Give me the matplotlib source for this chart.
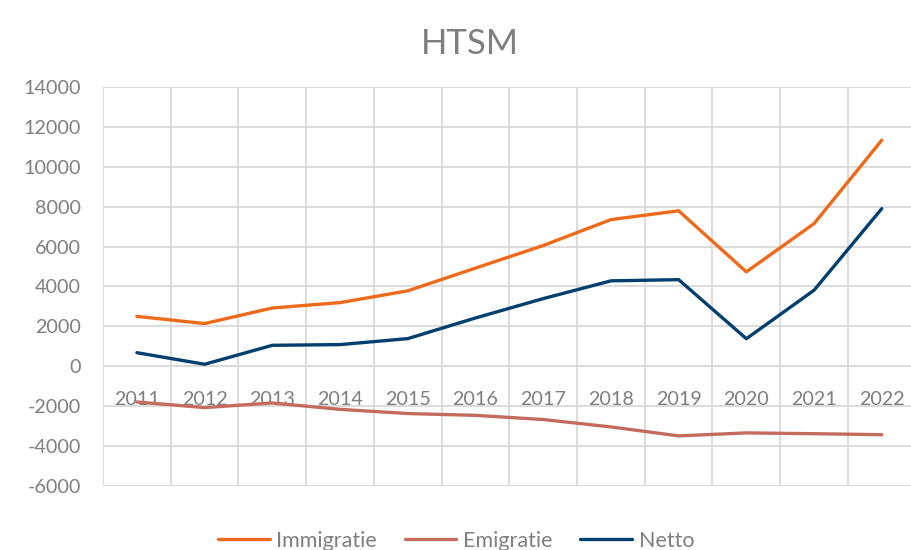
import matplotlib.pyplot as plt
import numpy as np

plt.rcParams['font.family'] = ['Lato', 'DejaVu Sans']
plt.rcParams['axes.unicode_minus'] = False

jaren = ['2011', '2012', '2013', '2014', '2015', '2016',
         '2017', '2018', '2019', '2020', '2021', '2022']
immigratie = [2500, 2140, 2920, 3190, 3780, 4920, 6050, 7350, 7790, 4730, 7150, 11330]
emigratie = [-1790, -2070, -1840, -2160, -2370, -2460, -2670, -3040, -3490, -3340, -3380, -3430]
netto = [680, 100, 1050, 1085, 1385, 2420, 3390, 4280, 4340, 1380, 3810, 7900]

grijs = '#7f7f7f'
raster = '#d9d9d9'

fig = plt.figure(figsize=(9.12, 5.5), dpi=100)
ax = fig.add_axes([0.113, 0.1164, 0.891, 0.7256])

x = np.arange(len(jaren))
ax.plot(x, immigratie, color='#ee6a1b', lw=2.4, label='Immigratie', solid_capstyle='round')
ax.plot(x, emigratie, color='#c56b5e', lw=2.4, label='Emigratie', solid_capstyle='round')
ax.plot(x, netto, color='#003f6e', lw=2.4, label='Netto', solid_capstyle='round')

ax.set_xlim(-0.5, len(jaren) - 0.5)
ax.set_ylim(-6000, 14000)
ax.set_yticks(np.arange(-6000, 14001, 2000))
ax.set_xticks(x)
ax.set_xticklabels(jaren)
ax.set_xticks(np.arange(-0.5, len(jaren)), minor=True)

# x-as ligt op 0
ax.spines['bottom'].set_position(('data', 0))
for s in ax.spines.values():
    s.set_visible(False)

ax.grid(True, axis='y', color=raster, lw=1.3)
ax.grid(True, axis='x', which='minor', color=raster, lw=1.3)
ax.set_axisbelow(True)
ax.axhline(0, color=raster, lw=1.3, zorder=0)

ax.tick_params(axis='both', which='both', length=0, colors=grijs, labelsize=14.2)
ax.tick_params(axis='x', pad=18)
ax.tick_params(axis='y', pad=16)

fig.suptitle('HTSM', x=0.515, y=0.95, fontsize=25, color=grijs)

fig.legend(loc='center', bbox_to_anchor=(0.5, 0.017), ncol=3, frameon=False,
           fontsize=15.5, labelcolor=grijs, handlelength=2.4, handletextpad=0.3,
           columnspacing=1.3)

fig.savefig('out.png', dpi=100)
